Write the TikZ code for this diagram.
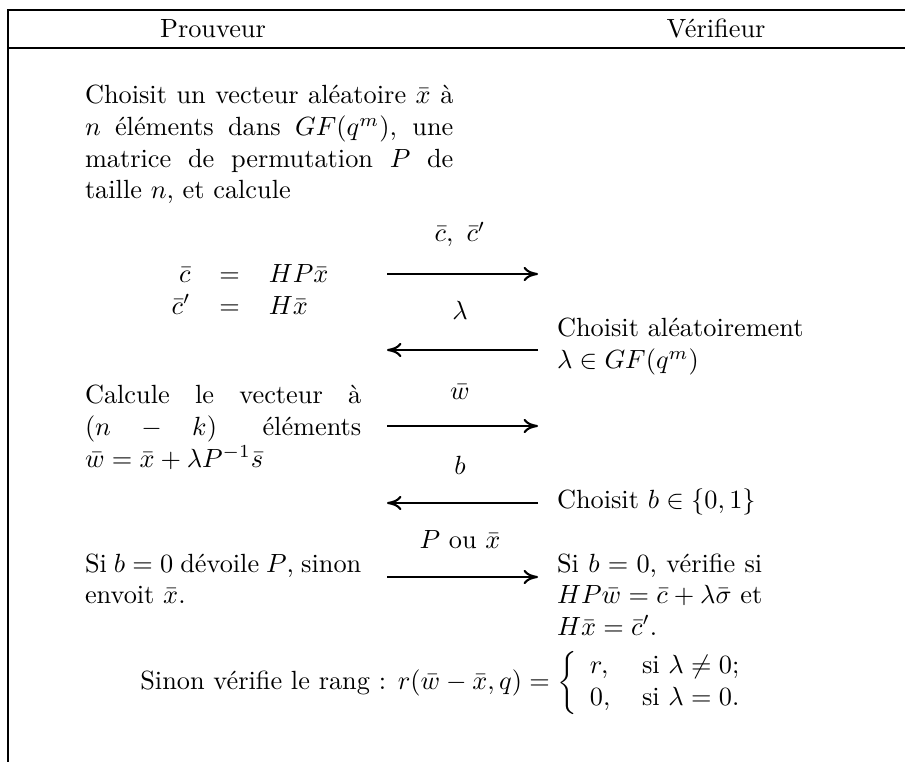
\documentclass[tikz,border=0pt]{standalone}
\usetikzlibrary{arrows.meta}
\begin{document}
\begin{tikzpicture}[x=0.38pt,y=-0.38pt,
  txt/.style={inner sep=0pt,outer sep=0pt},
  msg/.style={line width=0.8pt,-{To[length=5.5pt,width=5.5pt]}},
  frameline/.style={line width=0.7pt}]
\useasboundingbox (0,0) rectangle (905,762);
% frame
\coordinate (tl) at (8,10);
\coordinate (tr) at (905,10);
\coordinate (hl) at (8,48);
\coordinate (hr) at (905,48);
\coordinate (bl) at (8,762);
\draw[frameline] (tr) -- (tl) -- (bl);
\draw[frameline] (hl) -- (hr);
% headers
\node[txt,anchor=base] (hp) at (213,38) {Prouveur};
\node[txt,anchor=base] (hv) at (716,38) {V\'erifieur};
% prover paragraph 1
\node[txt,anchor=base west,text width=140pt,align=justify] (p1) at (85,104)
  {Choisit un vecteur al\'eatoire $\bar{x}$ \`a\linebreak
   $n$ \'el\'ements dans $GF(q^m)$, une\linebreak
   matrice de permutation $P$ de\linebreak
   taille $n$, et calcule};
\node[txt,anchor=base] (eq) at (250,299)
  {$\begin{array}{r@{\hspace{11pt}}c@{\hspace{11pt}}l}\bar{c} & = & HP\bar{x}\\ \bar{c}' & = & H\bar{x}\end{array}$};
% arrow anchors
\coordinate (a1l) at (387,274); \coordinate (a1r) at (538,274);
\coordinate (a2l) at (387,350); \coordinate (a2r) at (538,350);
\coordinate (a3l) at (387,426); \coordinate (a3r) at (538,426);
\coordinate (a4l) at (387,503); \coordinate (a4r) at (538,503);
\coordinate (a5l) at (387,577); \coordinate (a5r) at (538,577);
\draw[msg] (a1l) -- (a1r);
\draw[msg] (a2r) -- (a2l);
\draw[msg] (a3l) -- (a3r);
\draw[msg] (a4r) -- (a4l);
\draw[msg] (a5l) -- (a5r);
% labels
\node[txt,anchor=base] (l1) at (460,242) {$\bar{c},~\bar{c}'$};
\node[txt,anchor=base] (l2) at (460,320) {$\lambda$};
\node[txt,anchor=base] (l3) at (460,400) {$\bar{w}$};
\node[txt,anchor=base] (l4) at (460,474) {$b$};
\node[txt,anchor=base] (l5) at (460,548) {$P$ ou $\bar{x}$};
% verifier 1
\node[txt,anchor=base west,text width=110pt,align=left] (v1) at (557,337)
  {Choisit al\'eatoirement\\ $\lambda\in GF(q^m)$};
% prover 2
\node[txt,anchor=base west,text width=105pt,align=justify] (p2) at (85,404)
  {Calcule le vecteur \`a\linebreak
   $(n-k)$ \'el\'ements\linebreak
   $\bar{w}=\bar{x}+\lambda P^{-1}\bar{s}$};
% verifier 2
\node[txt,anchor=base west] (v2) at (557,509) {Choisit $b\in\{0,1\}$};
% prover 3
\node[txt,anchor=base west,text width=105pt,align=justify] (p3) at (85,572)
  {Si $b=0$ d\'evoile $P$, sinon\linebreak envoit $\bar{x}$.};
% verifier 3
\node[txt,anchor=base west,text width=78pt,align=justify] (v3) at (557,572)
  {Si $b=0$, v\'erifie si\linebreak
   $HP\bar{w}=\bar{c}+\lambda\bar{\sigma}$ et\linebreak
   $H\bar{x}=\bar{c}'$.};
% final
\node[txt] (fin) at (448,683)
  {Sinon v\'erifie le rang : $r(\bar{w}-\bar{x},q)=\left\{\begin{array}{l@{\hspace{12pt}}l} r, & \mbox{si }\lambda\neq 0;\\ 0, & \mbox{si }\lambda=0.\end{array}\right.$};
\end{tikzpicture}
\end{document}
